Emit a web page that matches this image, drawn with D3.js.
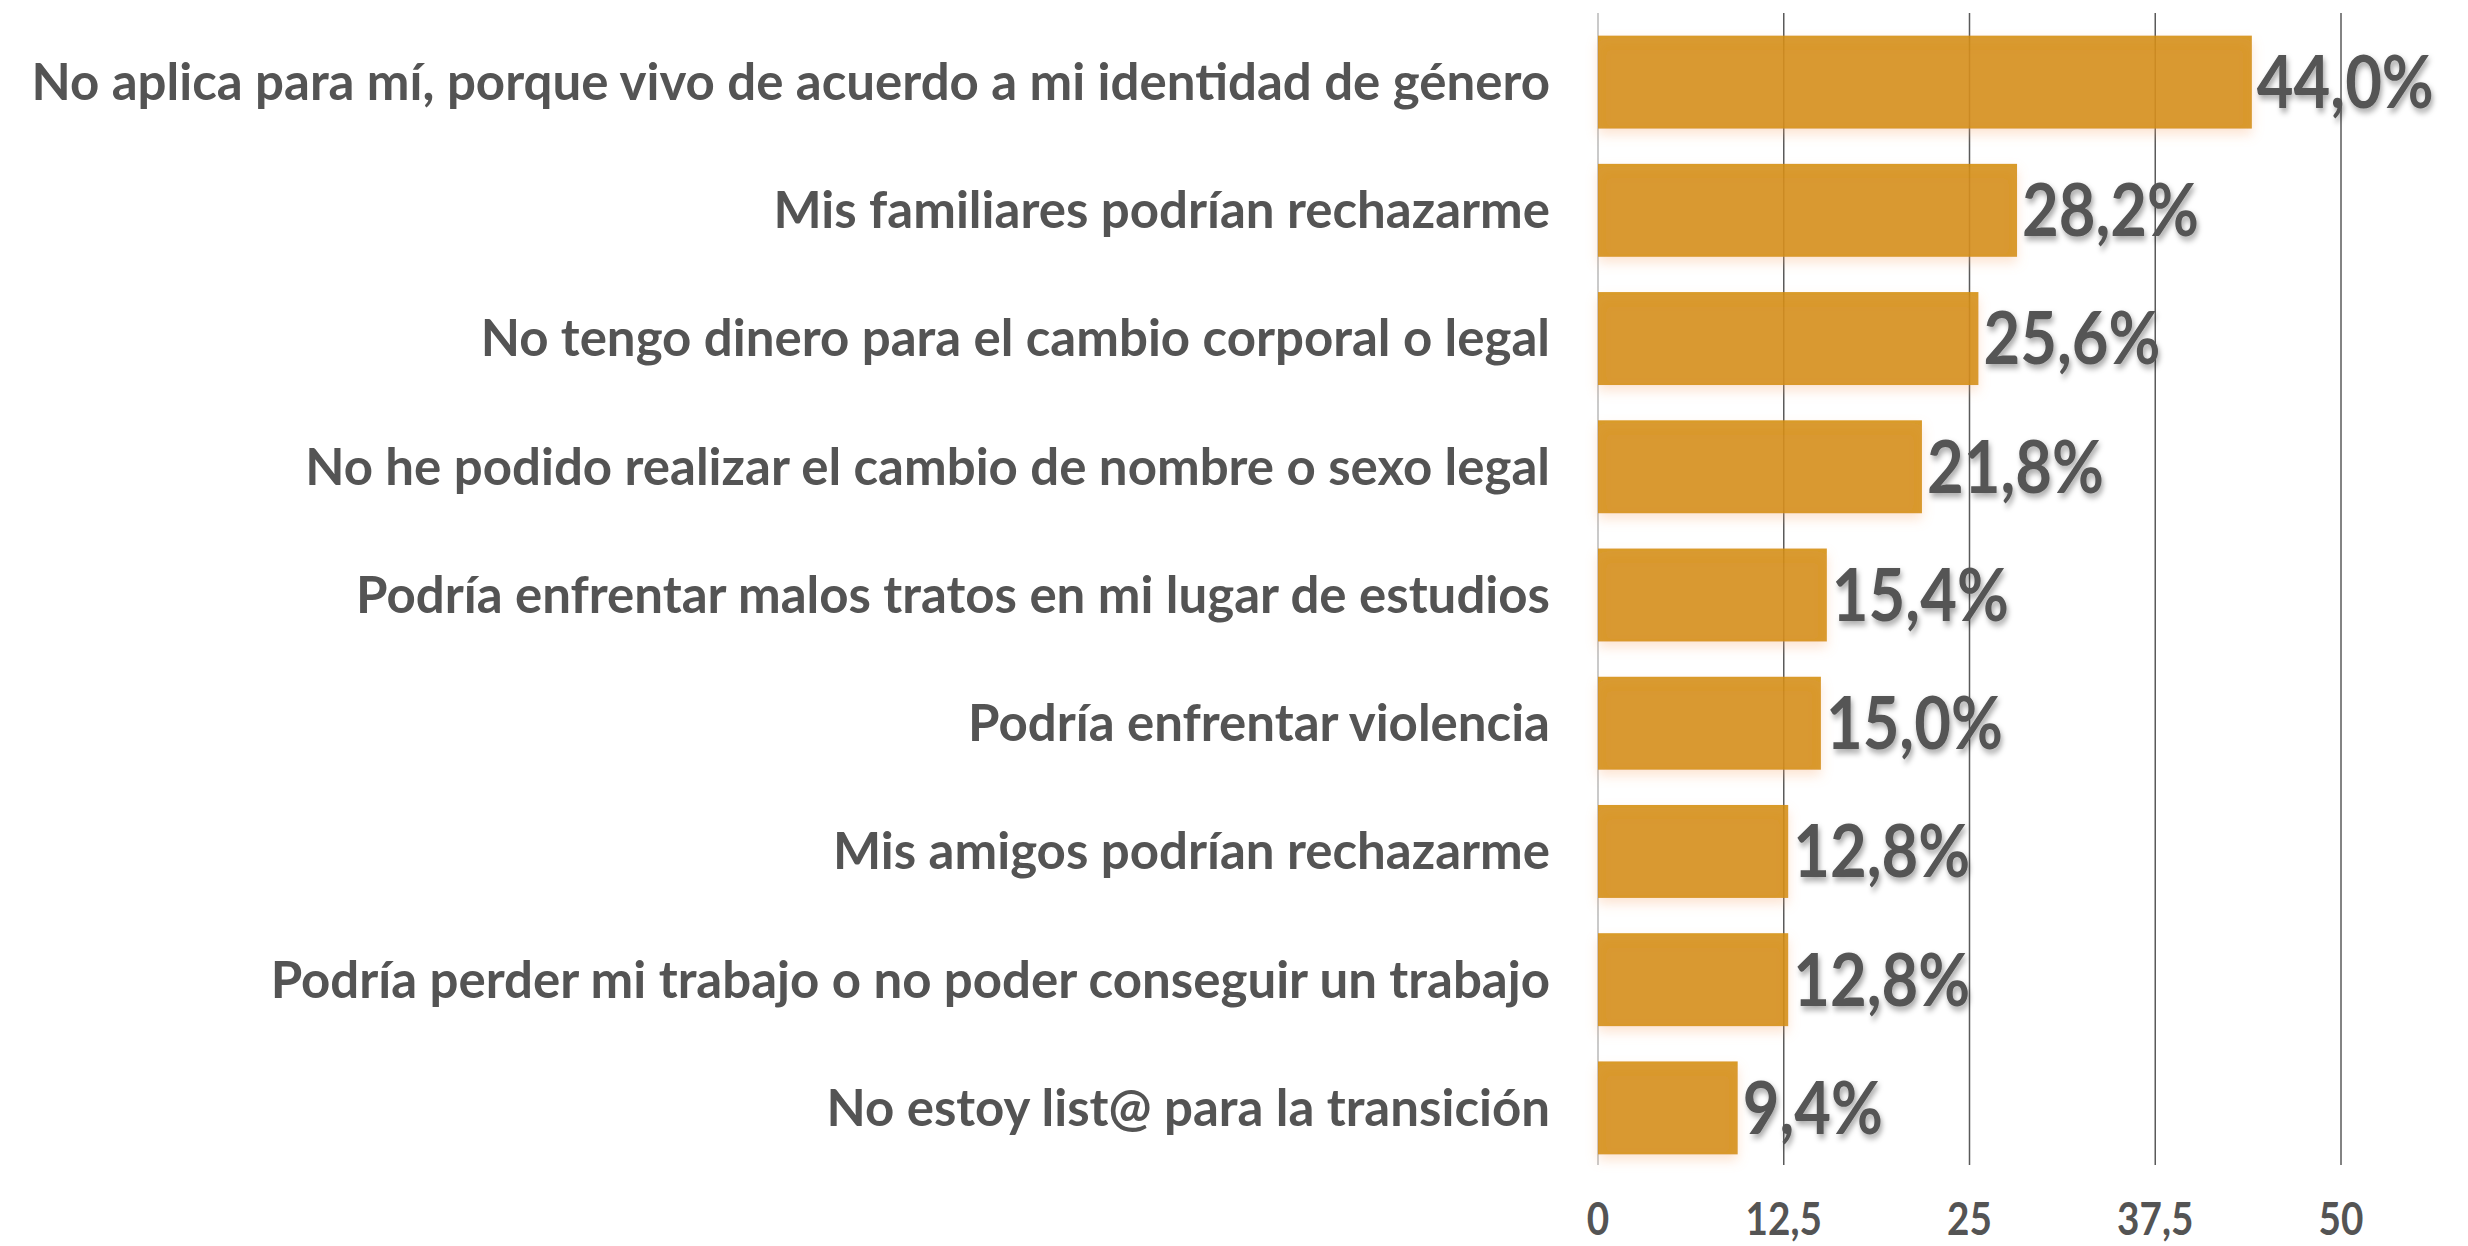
<!DOCTYPE html>
<html lang="es">
<head>
<meta charset="UTF-8">
<title>Razones</title>
<style>
  html, body { margin: 0; padding: 0; background: #fff; }
  svg { display: block; font-family: Lato, "Open Sans", sans-serif; }
</style>
</head>
<body>
<div id="chart"></div>
<script src="https://d3js.org/d3.v7.min.js"></script>
<script>
const categories = [
  "No aplica para mí, porque vivo de acuerdo a mi identidad de género",
  "Mis familiares podrían rechazarme",
  "No tengo dinero para el cambio corporal o legal",
  "No he podido realizar el cambio de nombre o sexo legal",
  "Podría enfrentar malos tratos en mi lugar de estudios",
  "Podría enfrentar violencia",
  "Mis amigos podrían rechazarme",
  "Podría perder mi trabajo o no poder conseguir un trabajo",
  "No estoy list@ para la transición"
];
const values = [44.0, 28.2, 25.6, 21.8, 15.4, 15.0, 12.8, 12.8, 9.4];
const tickValues = [0, 12.5, 25, 37.5, 50];

const W = 2468, H = 1246;
const plot = { left: 1598, right: 2341, top: 18, bottom: 1172 };

const locale = d3.formatLocale({ decimal: ",", thousands: ".", grouping: [3], currency: ["", "€"] });
const fmtTick = locale.format("~f");
const fmtVal = v => locale.format(".1f")(v) + "%";

const svg = d3.select("#chart").append("svg")
  .attr("width", W).attr("height", H);

const defs = svg.append("defs");
defs.append("filter").attr("id", "glow")
  .attr("x", "-10%").attr("y", "-20%").attr("width", "120%").attr("height", "160%")
  .append("feDropShadow")
  .attr("dx", 0).attr("dy", 6).attr("stdDeviation", 6)
  .attr("flood-color", "#f7a870").attr("flood-opacity", 0.35);
defs.append("filter").attr("id", "tshadow")
  .attr("x", "-10%").attr("y", "-20%").attr("width", "130%").attr("height", "160%")
  .append("feDropShadow")
  .attr("dx", 2).attr("dy", 4).attr("stdDeviation", 3)
  .attr("flood-color", "#000").attr("flood-opacity", 0.35);

const x = d3.scaleLinear().domain([0, 50]).range([plot.left, plot.right]);
const y = d3.scaleBand().domain(categories).range([plot.top, plot.bottom]).paddingInner(0.275).paddingOuter(0.1375);

// gridlines
svg.append("g").selectAll("line").data(tickValues).join("line")
  .attr("x1", d => x(d)).attr("x2", d => x(d))
  .attr("y1", 13).attr("y2", 1165)
  .attr("stroke", d => d === 0 ? "#b8b8b8" : "#5a5a5a")
  .attr("stroke-width", 1.5);

// bars
svg.append("g").selectAll("rect").data(values).join("rect")
  .attr("x", x(0))
  .attr("y", (d, i) => y(categories[i]))
  .attr("width", d => x(d) - x(0))
  .attr("height", y.bandwidth())
  .attr("fill", "#d48d0f")
  .attr("fill-opacity", 0.88)
  .attr("filter", "url(#glow)");

// category labels
svg.append("g").selectAll("text").data(categories).join("text")
  .attr("x", 1550)
  .attr("y", d => y(d) + y.bandwidth() / 2)
  .attr("dy", "0.35em")
  .attr("text-anchor", "end")
  .attr("fill", "#545454")
  .attr("font-weight", 700)
  .attr("font-size", 51)
  .text(d => d);

// value labels
svg.append("g").selectAll("text").data(values).join("text")
  .attr("transform", (d, i) => `translate(${x(d) + 5},${y(categories[i]) + y.bandwidth() / 2}) scale(0.88,1)`)
  .attr("dy", "0.36em")
  .attr("fill", "#545454")
  .attr("font-weight", 700)
  .attr("font-size", 72)
  .attr("filter", "url(#tshadow)")
  .text(d => fmtVal(d));

// x axis labels
const axis = d3.axisBottom(x).tickValues(tickValues).tickFormat(fmtTick).tickSize(0).tickPadding(0);
const gx = svg.append("g").attr("transform", "translate(0,1219)").call(axis);
gx.select(".domain").remove();
gx.selectAll("text")
  .attr("y", 0).attr("dy", "0.36em")
  .attr("fill", "#545454")
  .attr("font-family", "Lato, sans-serif")
  .attr("font-weight", 700)
  .attr("font-size", 45)
  .attr("transform", "scale(0.86,1)");
gx.selectAll(".tick").each(function (d) {
  d3.select(this).attr("transform", `translate(${x(d)},0)`);
});
</script>
</body>
</html>
